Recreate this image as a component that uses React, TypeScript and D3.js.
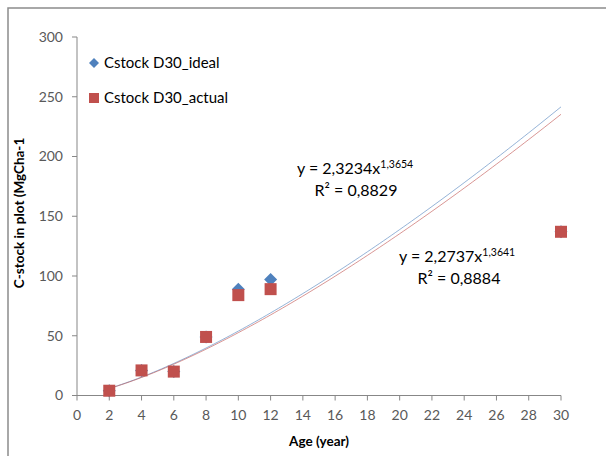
import React from "react";
import * as d3 from "d3";

const ages = [2, 4, 6, 8, 10, 12, 30];
const idealValues = [4, 21, 20, 49, 89, 97, 137];
const actualValues = [4, 21, 20, 49, 84, 89, 137];
const xTicks = [0, 2, 4, 6, 8, 10, 12, 14, 16, 18, 20, 22, 24, 26, 28, 30];
const yTicks = [0, 50, 100, 150, 200, 250, 300];
const idealFit = { a: 2.3234, b: 1.3654, eq: "y = 2,3234x", exp: "1,3654", r2: "R² = 0,8829" };
const actualFit = { a: 2.2737, b: 1.3641, eq: "y = 2,2737x", exp: "1,3641", r2: "R² = 0,8884" };
const seriesNames = ["Cstock D30_ideal", "Cstock D30_actual"];

const W = 606, H = 456;
const FONT = "Lato, 'Open Sans', sans-serif";
const BLUE = "#4F81BD";
const RED = "#C0504D";
const AXIS = "#878787";
const TXT = "#595959";

const diamondPath = (r: number) => `M0,${-r}L${r},0L0,${r}L${-r},0Z`;

export default function App() {
  const x = d3.scaleLinear().domain([0, 30]).range([77, 561]);
  const y = d3.scaleLinear().domain([0, 300]).range([395.5, 37]);
  const fitLine = (f: { a: number; b: number }) => {
    const pts = d3.range(2, 30.001, 0.25).map((t) => [t, f.a * Math.pow(t, f.b)] as [number, number]);
    return d3.line<[number, number]>().x((d) => x(d[0])).y((d) => y(d[1]))(pts) || "";
  };

  return (
    <svg width={W} height={H} style={{ position: "absolute", left: 0, top: 0 }} fontFamily={FONT}>
      <rect x={0} y={0} width={W} height={H} fill="#fff" />
      <rect x={8} y={8} width={W + 20} height={H + 20} fill="#fff" stroke="#8c8c8c" strokeWidth={1.5} />
      {/* axes */}
      <line x1={x(0)} x2={x(0)} y1={y(300)} y2={y(0)} stroke={AXIS} strokeWidth={1} />
      <line x1={x(0)} x2={x(30)} y1={y(0)} y2={y(0)} stroke={AXIS} strokeWidth={1} />
      {yTicks.map((t) => (
        <g key={"y" + t}>
          <line x1={x(0) - 5} x2={x(0)} y1={y(t)} y2={y(t)} stroke={AXIS} />
          <text x={63} y={y(t)} dy="0.35em" textAnchor="end" fontSize={14} fill={TXT}>{t}</text>
        </g>
      ))}
      {xTicks.map((t) => (
        <g key={"x" + t}>
          <line x1={x(t)} x2={x(t)} y1={y(0)} y2={y(0) + 5} stroke={AXIS} />
          <text x={x(t)} y={415} dy="0.35em" textAnchor="middle" fontSize={14} fill={TXT}>{t}</text>
        </g>
      ))}
      <text x={319} y={446} textAnchor="middle" fontSize={13.5} fontWeight="bold" fill="#000">Age (year)</text>
      <text transform="translate(24,213) rotate(-90)" textAnchor="middle" fontSize={13.5} fontWeight="bold" fill="#000">C-stock  in plot (MgCha-1</text>
      {/* trend lines */}
      <path d={fitLine(idealFit)} fill="none" stroke={BLUE} strokeOpacity={0.6} strokeWidth={1} />
      <path d={fitLine(actualFit)} fill="none" stroke={RED} strokeOpacity={0.6} strokeWidth={1} />
      {/* points */}
      {ages.map((a, i) => (
        <path key={"d" + i} d={diamondPath(6.5)} transform={`translate(${x(a)},${y(idealValues[i])})`} fill={BLUE} />
      ))}
      {ages.map((a, i) => (
        <rect key={"s" + i} x={x(a) - 6} y={y(actualValues[i]) - 6} width={12} height={12} fill={RED} />
      ))}
      {/* equations */}
      <text x={297} y={174} fontSize={16} fill="#000">
        {idealFit.eq}
        <tspan fontSize={10.5} dy={-6}>{idealFit.exp}</tspan>
      </text>
      <text x={356} y={196} textAnchor="middle" fontSize={16} fill="#000">{idealFit.r2}</text>
      <text x={399} y={262} fontSize={16} fill="#000">
        {actualFit.eq}
        <tspan fontSize={10.5} dy={-6}>{actualFit.exp}</tspan>
      </text>
      <text x={459} y={284} textAnchor="middle" fontSize={16} fill="#000">{actualFit.r2}</text>
      {/* legend */}
      <path d={diamondPath(5)} transform="translate(94,63)" fill={BLUE} />
      <text x={104} y={63} dy="0.35em" fontSize={15} fill="#000">{seriesNames[0]}</text>
      <rect x={89} y={93} width={10} height={10} fill={RED} />
      <text x={104} y={98} dy="0.35em" fontSize={15} fill="#000">{seriesNames[1]}</text>
    </svg>
  );
}
